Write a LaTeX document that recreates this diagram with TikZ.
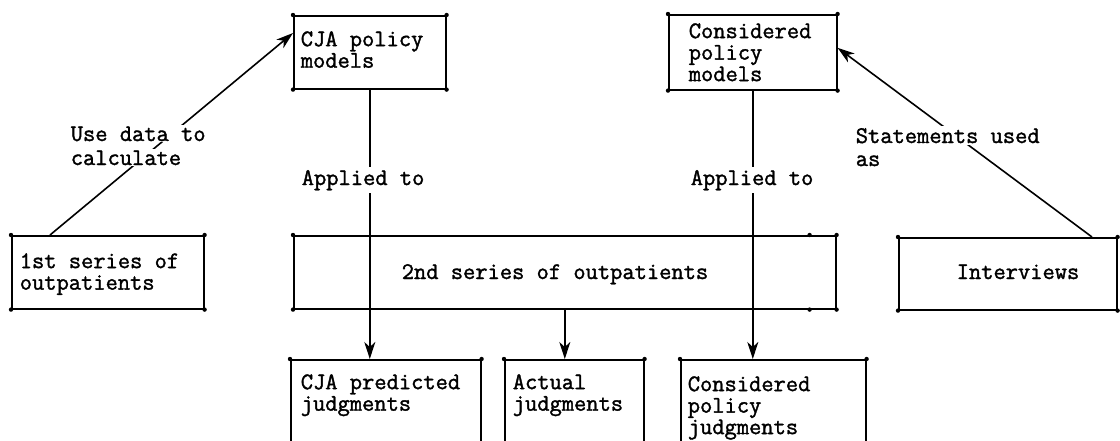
\documentclass[tikz,border=0pt]{standalone}
\usepackage{fontspec}
\usepackage{tikz}
\usetikzlibrary{arrows.meta}
\newfontfamily\typewriter{Latin Modern Mono}[FakeBold=1.5]

\begin{document}
\begin{tikzpicture}[x=1pt, y=-1pt, line width=1.6pt,
    box/.style={draw, inner sep=0, anchor=north west},
    txt/.style={font=\typewriter\fontsize{23.8}{21.5}\selectfont, align=left, inner sep=0},
    note/.style={txt, anchor=base west, fill=white, inner sep=2pt},
    arr/.style={-{Stealth[length=17pt, width=11pt, inset=5pt]}}]
\clip (0,0) rectangle (1120,440);
\fill[white] (0,0) rectangle (1120,440);

% boxes
\node[box, minimum width=192pt, minimum height=73pt] (first) at (11,235) {};
\node[box, minimum width=152pt, minimum height=73pt] (cja) at (293,15) {};
\node[box, minimum width=168pt, minimum height=75pt] (cpm) at (668,14) {};
\node[box, minimum width=542pt, minimum height=73pt] (second) at (293,235) {};
\node[box, minimum width=218pt, minimum height=72pt] (intv) at (898,237) {};
\node[box, minimum width=190pt, minimum height=100pt] (pred) at (290,359) {};
\node[box, minimum width=139pt, minimum height=100pt] (actual) at (504,359) {};
\node[box, minimum width=185pt, minimum height=100pt] (cpj) at (680,359) {};

% corner dots
\foreach \b in {first,cja,cpm,second,intv}
    \foreach \c in {north west,north east,south west,south east}
        \fill (\b.\c) circle (2.2pt);
\foreach \b in {pred,actual,cpj}
    \foreach \c in {north west,north east}
        \fill (\b.\c) circle (2.2pt);
\fill ([xshift=-27pt]second.north east) circle (2.2pt);
\fill ([xshift=-27pt]second.south east) circle (2.2pt);

% connectors
\draw[arr] ([xshift=39pt]first.north west) -- ([yshift=-18pt]cja.north west);
\draw[arr] ([xshift=194pt]intv.north west) -- ([yshift=4.5pt]cpm.east);
\draw[arr] (cja.south) -- (cja.south |- pred.north);
\draw[arr] (second.south) -- (second.south |- actual.north);
\draw[arr] (cpm.south) -- (cpm.south |- cpj.north);

% labels
\node[note, inner sep=1pt] (usedata) at (69,141) {Use data to};
\node[note, inner sep=1pt] (calculate) at (69,165) {calculate};
\node[note] (statements) at (853,143) {Statements used};
\node[note] (statementsas) at (853,166) {as};
\node[note, inner sep=3pt] (appliedcja) at (298,185) {Applied to};
\node[note, inner sep=3pt] (appliedcpm) at (687,185) {Applied to};

% box texts
\node[txt, anchor=north west] (firsttext) at (19,252.5) {1st series of\\outpatients};
\node[txt, anchor=north west] (cjatext) at (300,30.5) {CJA policy\\models};
\node[txt, anchor=north west] (cpmtext) at (688,22.5) {Considered\\policy\\models};
\node[txt, anchor=base] (secondtext) at (555,279) {2nd series of outpatients};
\node[txt, anchor=base] (intvtext) at (1018,279) {Interviews};
\node[txt, anchor=north west] (predtext) at (300,373.5) {CJA predicted\\judgments};
\node[txt, anchor=north west] (actualtext) at (512,373.5) {Actual\\judgments};
\node[txt, anchor=north west] (cpjtext) at (687,375.5) {Considered\\policy\\judgments};
\end{tikzpicture}
\end{document}
